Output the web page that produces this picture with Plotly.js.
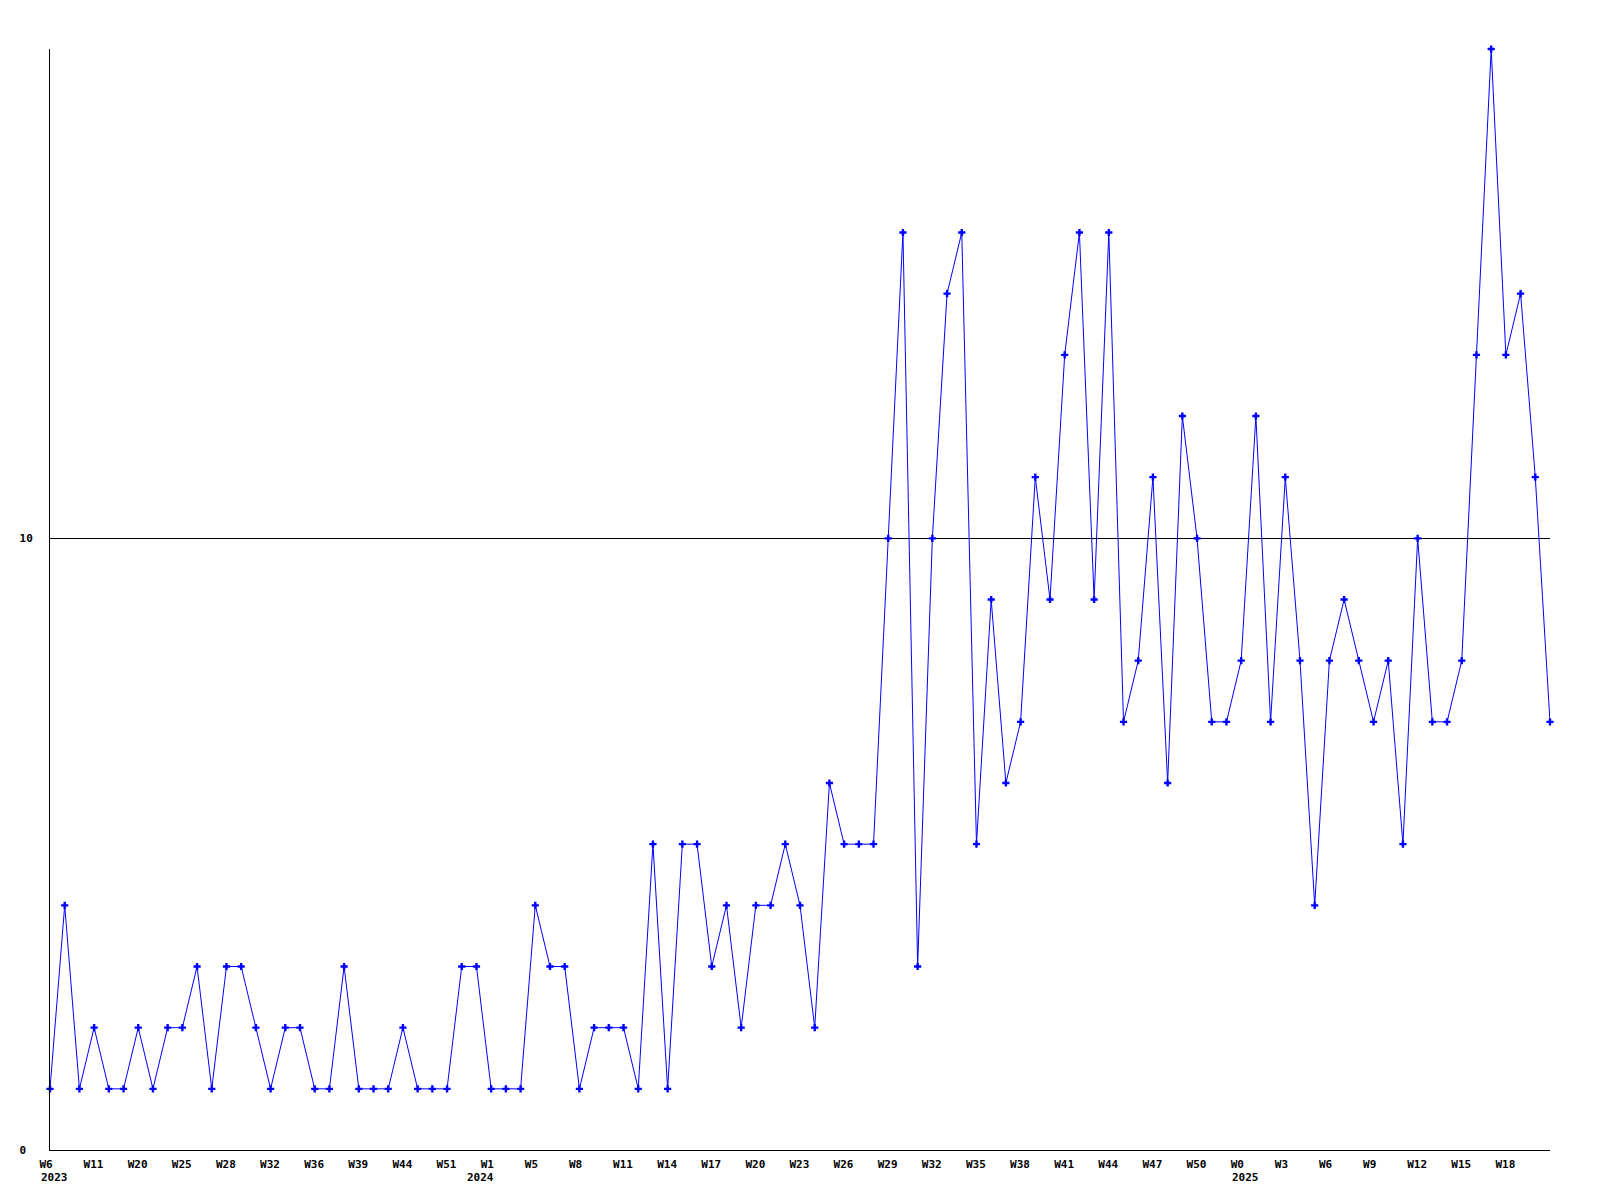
<!DOCTYPE html>
<html>
<head>
<meta charset="utf-8">
<script src="https://cdn.plot.ly/plotly-3.0.1.min.js"></script>
<style>
  html, body { margin: 0; padding: 0; background: #ffffff; }
  #chart { width: 1600px; height: 1200px; }
</style>
</head>
<body>
<div id="chart"></div>
<script>
// Weekly counts, one point per week (103 points)
const counts = [
  1, 4, 1, 2, 1, 1, 2, 1, 2, 2,
  3, 1, 3, 3, 2, 1, 2, 2, 1, 1,
  3, 1, 1, 1, 2, 1, 1, 1, 3, 3,
  1, 1, 1, 4, 3, 3, 1, 2, 2, 2,
  1, 5, 1, 5, 5, 3, 4, 2, 4, 4,
  5, 4, 2, 6, 5, 5, 5, 10, 15, 3,
  10, 14, 15, 5, 9, 6, 7, 11, 9, 13,
  15, 9, 15, 7, 8, 11, 6, 12, 10, 7,
  7, 8, 12, 7, 11, 8, 4, 8, 9, 8,
  7, 8, 5, 10, 7, 7, 8, 13, 18, 13,
  14, 11, 7
];

// Week tick labels shown every third point
const weekTicks = [
  "W6", "W11", "W20", "W25", "W28", "W32", "W36", "W39", "W44", "W51",
  "W1", "W5", "W8", "W11", "W14", "W17", "W20", "W23", "W26", "W29",
  "W32", "W35", "W38", "W41", "W44", "W47", "W50",
  "W0", "W3", "W6", "W9", "W12", "W15", "W18"
];

// Year labels and the point index each one sits under
const yearLabels = ["2023", "2024", "2025"];
const yearIndex = [0, 29, 81];

const yTickVals = [0, 10];

const xIdx = counts.map((_, i) => i);
const tickStep = 3;
const tickVals = weekTicks.map((_, k) => k * tickStep);

const fontFamily = "'DejaVu Sans Mono', 'Liberation Mono', monospace";
const labelFont = { family: fontFamily, size: 11, color: "#000000", weight: "bold" };

const trace = {
  x: xIdx,
  y: counts,
  type: "scatter",
  mode: "lines+markers",
  line: { color: "#0000ff", width: 1, shape: "linear" },
  marker: { color: "#0000ff", symbol: "cross", size: 6, line: { width: 0 } },
  cliponaxis: false,
  hoverinfo: "y"
};

const yearAnnotations = yearLabels.map((t, k) => ({
  text: t,
  x: yearIndex[k],
  xref: "x",
  y: 0,
  yref: "paper",
  xanchor: "left",
  yanchor: "top",
  xshift: -11,
  yshift: -19,
  showarrow: false,
  font: labelFont
}));

const layout = {
  width: 1600,
  height: 1200,
  margin: { l: 50, r: 50, t: 49, b: 50, autoexpand: false },
  paper_bgcolor: "#ffffff",
  plot_bgcolor: "#ffffff",
  showlegend: false,
  font: labelFont,
  annotations: yearAnnotations,
  xaxis: {
    range: [0, counts.length - 1],
    tickmode: "array",
    tickvals: tickVals,
    ticktext: weekTicks,
    ticks: "",
    ticklabelposition: "outside right",
    ticklabelshift: -11,
    ticklabelstandoff: 4,
    tickfont: labelFont,
    showgrid: false,
    zeroline: false,
    showline: true,
    linecolor: "#000000",
    linewidth: 1,
    automargin: false,
    fixedrange: true
  },
  yaxis: {
    range: [0, 18],
    tickmode: "array",
    tickvals: yTickVals,
    ticktext: yTickVals.map(v => String(v).padEnd(2, "\u00a0")),
    ticks: "",
    ticklabelstandoff: 14,
    tickfont: labelFont,
    showgrid: true,
    gridcolor: "#000000",
    gridwidth: 1,
    zeroline: false,
    showline: true,
    linecolor: "#000000",
    linewidth: 1,
    automargin: false,
    fixedrange: true
  }
};

Plotly.newPlot("chart", [trace], layout, { displayModeBar: false, staticPlot: true });
</script>
</body>
</html>
